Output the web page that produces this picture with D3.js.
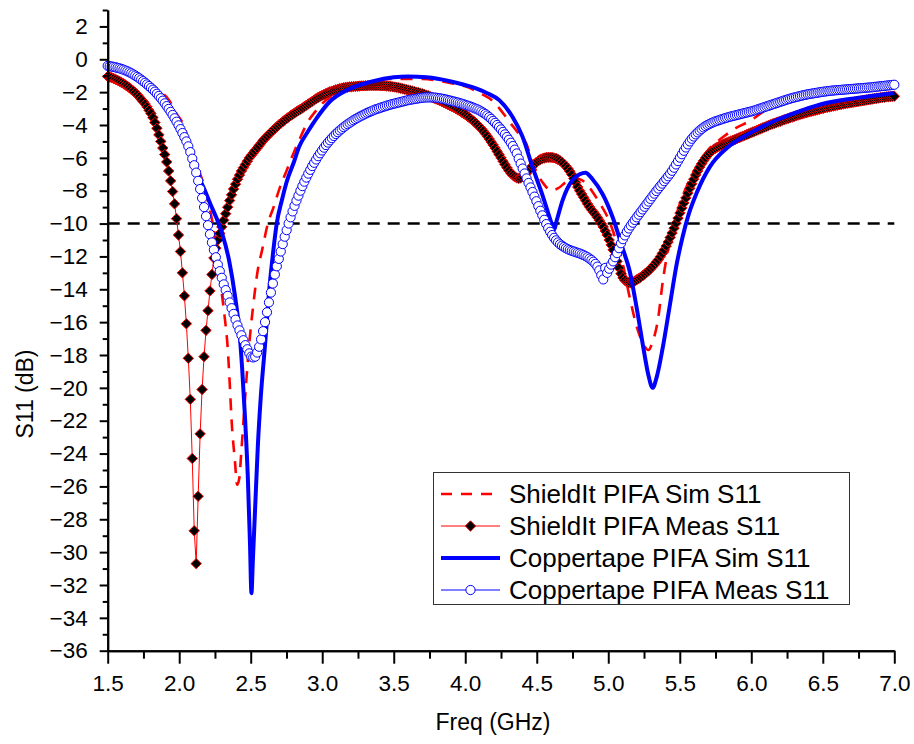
<!DOCTYPE html>
<html><head><meta charset="utf-8">
<script src="https://cdn.jsdelivr.net/npm/d3@7"></script>
<style>body{margin:0;background:#fff}</style>
</head><body>
<svg id="c" width="914" height="744"></svg>
<script>
// ---------------- DATA ----------------
const seriesNames = ["ShieldIt PIFA Sim S11", "ShieldIt PIFA Meas S11", "Coppertape PIFA Sim S11", "Coppertape PIFA Meas S11"];
const xMajorTicks = [1.5, 2.0, 2.5, 3.0, 3.5, 4.0, 4.5, 5.0, 5.5, 6.0, 6.5, 7.0];
const xMinorTicks = [1.75, 2.25, 2.75, 3.25, 3.75, 4.25, 4.75, 5.25, 5.75, 6.25, 6.75];
const yMajorTicks = [2, 0, -2, -4, -6, -8, -10, -12, -14, -16, -18, -20, -22, -24, -26, -28, -30, -32, -34, -36];
const yMinorTicks = [3, 1, -1, -3, -5, -7, -9, -11, -13, -15, -17, -19, -21, -23, -25, -27, -29, -31, -33, -35];
const refLevel = -10;

// measured sweeps: 401 points from 1.5 GHz, step 0.01375 GHz
const measStart = 1.5, measStep = 0.01375;
const shieldMeas = [
-1.05,-1.08,-1.12,-1.17,-1.22,-1.28,-1.34,-1.41,-1.48,-1.56,-1.64,-1.73,-1.83,-1.93,-2.04,-2.16,-2.29,-2.43,-2.57,-2.72,
-2.9,-3.1,-3.3,-3.55,-3.85,-4.2,-4.6,-5.0,-5.4,-5.8,-6.25,-6.8,-7.4,-8.05,-8.8,-9.7,-10.7,-11.7,-13.0,-14.4,
-16.1,-18.2,-20.7,-24.3,-28.7,-30.7,-26.6,-22.8,-20.1,-18.1,-16.5,-15.3,-14.1,-13.1,-12.1,-11.5,-11.0,-10.6,-10.2,-9.8,
-9.4,-9.0,-8.6,-8.25,-7.9,-7.6,-7.3,-7.05,-6.8,-6.6,-6.4,-6.2,-6.0,-5.85,-5.7,-5.55,-5.4,-5.25,-5.1,-4.95,
-4.8,-4.68,-4.56,-4.44,-4.33,-4.22,-4.11,-4.0,-3.9,-3.8,-3.7,-3.61,-3.52,-3.43,-3.35,-3.27,-3.19,-3.11,-3.04,-2.97,
-2.88,-2.8,-2.72,-2.64,-2.56,-2.48,-2.4,-2.33,-2.26,-2.2,-2.14,-2.08,-2.03,-1.98,-1.94,-1.9,-1.86,-1.82,-1.79,-1.76,
-1.73,-1.71,-1.7,-1.68,-1.67,-1.66,-1.65,-1.64,-1.63,-1.62,-1.62,-1.61,-1.61,-1.6,-1.6,-1.6,-1.6,-1.6,-1.6,-1.61,
-1.61,-1.62,-1.63,-1.64,-1.65,-1.67,-1.69,-1.71,-1.73,-1.76,-1.79,-1.82,-1.85,-1.88,-1.91,-1.94,-1.97,-2.0,-2.03,-2.07,
-2.1,-2.14,-2.18,-2.22,-2.27,-2.32,-2.37,-2.42,-2.47,-2.52,-2.57,-2.63,-2.69,-2.75,-2.81,-2.87,-2.93,-3.0,-3.07,-3.14,
-3.22,-3.3,-3.38,-3.47,-3.56,-3.66,-3.76,-3.87,-3.98,-4.1,-4.23,-4.37,-4.52,-4.68,-4.85,-5.03,-5.21,-5.4,-5.6,-5.8,
-6.0,-6.2,-6.4,-6.6,-6.78,-6.93,-7.05,-7.15,-7.22,-7.25,-7.22,-7.15,-7.05,-6.92,-6.78,-6.63,-6.5,-6.38,-6.27,-6.18,
-6.1,-6.05,-6.01,-5.98,-5.97,-5.97,-5.98,-6.0,-6.04,-6.1,-6.17,-6.26,-6.37,-6.5,-6.65,-6.82,-7.02,-7.25,-7.5,-7.77,
-8.0,-8.2,-8.4,-8.6,-8.8,-8.98,-9.15,-9.3,-9.45,-9.62,-9.8,-10.0,-10.2,-10.45,-10.7,-11.0,-11.3,-11.6,-11.95,-12.3,
-12.7,-13.05,-13.3,-13.45,-13.55,-13.6,-13.6,-13.55,-13.5,-13.42,-13.35,-13.27,-13.18,-13.08,-12.98,-12.88,-12.76,-12.63,-12.5,-12.35,
-12.2,-12.02,-11.82,-11.6,-11.37,-11.12,-10.85,-10.57,-10.28,-9.98,-9.67,-9.36,-9.05,-8.74,-8.44,-8.15,-7.86,-7.58,-7.3,-7.04,
-6.8,-6.57,-6.36,-6.17,-6.0,-5.85,-5.72,-5.6,-5.5,-5.42,-5.35,-5.29,-5.23,-5.17,-5.12,-5.07,-5.02,-4.97,-4.93,-4.88,
-4.83,-4.78,-4.73,-4.68,-4.63,-4.58,-4.53,-4.48,-4.43,-4.38,-4.33,-4.28,-4.23,-4.18,-4.13,-4.08,-4.03,-3.98,-3.94,-3.89,
-3.85,-3.81,-3.77,-3.72,-3.68,-3.64,-3.6,-3.56,-3.52,-3.48,-3.44,-3.4,-3.36,-3.33,-3.29,-3.26,-3.22,-3.19,-3.16,-3.13,
-3.1,-3.07,-3.04,-3.01,-2.98,-2.95,-2.92,-2.9,-2.87,-2.85,-2.82,-2.8,-2.77,-2.75,-2.72,-2.7,-2.68,-2.66,-2.64,-2.62,
-2.6,-2.58,-2.56,-2.54,-2.52,-2.5,-2.48,-2.46,-2.44,-2.42,-2.4,-2.38,-2.36,-2.34,-2.32,-2.31,-2.29,-2.28,-2.27,-2.26,
-2.25];
const copperMeas = [
-0.4,-0.42,-0.44,-0.46,-0.49,-0.52,-0.55,-0.59,-0.63,-0.68,-0.73,-0.79,-0.85,-0.92,-0.99,-1.07,-1.15,-1.24,-1.33,-1.43,
-1.53,-1.63,-1.74,-1.85,-1.97,-2.1,-2.23,-2.37,-2.52,-2.68,-2.85,-3.02,-3.2,-3.39,-3.59,-3.8,-4.02,-4.25,-4.49,-4.74,
-5.0,-5.3,-5.65,-6.05,-6.45,-6.9,-7.4,-7.9,-8.45,-9.0,-9.55,-10.1,-10.65,-11.15,-11.6,-12.05,-12.5,-12.9,-13.3,-13.7,
-14.05,-14.4,-14.8,-15.15,-15.5,-15.85,-16.2,-16.5,-16.8,-17.1,-17.4,-17.65,-17.9,-18.1,-18.15,-18.1,-17.85,-17.5,-17.05,-16.55,
-16.0,-15.4,-14.8,-14.2,-13.65,-13.1,-12.6,-12.15,-11.7,-11.25,-10.8,-10.4,-10.0,-9.62,-9.26,-8.92,-8.6,-8.3,-8.0,-7.72,
-7.45,-7.2,-6.96,-6.73,-6.5,-6.3,-6.1,-5.9,-5.72,-5.55,-5.38,-5.22,-5.07,-4.93,-4.8,-4.67,-4.55,-4.44,-4.33,-4.23,
-4.13,-4.04,-3.95,-3.87,-3.79,-3.71,-3.64,-3.57,-3.5,-3.44,-3.38,-3.32,-3.26,-3.21,-3.16,-3.11,-3.06,-3.02,-2.98,-2.94,
-2.9,-2.86,-2.82,-2.79,-2.75,-2.72,-2.69,-2.66,-2.63,-2.6,-2.57,-2.54,-2.51,-2.48,-2.46,-2.44,-2.42,-2.4,-2.38,-2.36,
-2.34,-2.33,-2.32,-2.32,-2.32,-2.32,-2.33,-2.34,-2.36,-2.38,-2.4,-2.42,-2.45,-2.48,-2.51,-2.54,-2.57,-2.6,-2.63,-2.67,
-2.7,-2.74,-2.78,-2.82,-2.86,-2.9,-2.95,-3.0,-3.05,-3.11,-3.18,-3.25,-3.33,-3.42,-3.52,-3.63,-3.75,-3.87,-4.0,-4.13,
-4.27,-4.42,-4.57,-4.73,-4.9,-5.08,-5.28,-5.5,-5.73,-6.05,-6.35,-6.65,-6.95,-7.25,-7.53,-7.8,-8.08,-8.36,-8.64,-8.94,
-9.22,-9.5,-9.77,-10.03,-10.28,-10.5,-10.7,-10.87,-11.02,-11.15,-11.26,-11.35,-11.43,-11.5,-11.56,-11.61,-11.66,-11.7,-11.74,-11.78,
-11.82,-11.87,-11.92,-11.98,-12.05,-12.13,-12.22,-12.32,-12.45,-12.62,-12.85,-13.15,-13.4,-12.7,-13.0,-12.75,-12.5,-12.3,-12.05,-11.8,
-11.5,-11.2,-10.95,-10.72,-10.5,-10.3,-10.12,-9.95,-9.78,-9.62,-9.46,-9.3,-9.14,-8.98,-8.82,-8.66,-8.5,-8.34,-8.18,-8.02,
-7.87,-7.72,-7.57,-7.42,-7.27,-7.12,-6.96,-6.79,-6.6,-6.4,-6.2,-5.99,-5.78,-5.57,-5.37,-5.18,-5.0,-4.84,-4.7,-4.57,
-4.45,-4.34,-4.24,-4.15,-4.07,-4.0,-3.94,-3.88,-3.83,-3.78,-3.74,-3.7,-3.66,-3.62,-3.58,-3.55,-3.51,-3.48,-3.45,-3.42,
-3.39,-3.36,-3.33,-3.3,-3.27,-3.24,-3.21,-3.18,-3.15,-3.11,-3.07,-3.03,-2.99,-2.95,-2.91,-2.87,-2.83,-2.79,-2.75,-2.71,
-2.67,-2.63,-2.59,-2.55,-2.51,-2.47,-2.43,-2.4,-2.36,-2.33,-2.3,-2.27,-2.24,-2.21,-2.18,-2.16,-2.13,-2.11,-2.09,-2.07,
-2.05,-2.03,-2.01,-1.99,-1.97,-1.96,-1.94,-1.93,-1.91,-1.9,-1.89,-1.88,-1.87,-1.86,-1.85,-1.84,-1.83,-1.82,-1.81,-1.8,
-1.79,-1.78,-1.77,-1.76,-1.75,-1.74,-1.73,-1.72,-1.71,-1.7,-1.68,-1.67,-1.66,-1.64,-1.63,-1.62,-1.6,-1.59,-1.58,-1.56,
-1.55];

// simulations
const shieldSimFreq = [1.5,1.6,1.7,1.79,1.86,1.93,1.98,2.03,2.07,2.12,2.167,2.2,2.24,2.27,2.295,2.318,2.34,2.353,2.365,2.39,2.405,2.42,2.435,2.46,2.48,2.516,2.55,2.58,2.62,2.66,2.7,2.75,2.8,2.85,2.9,2.95,3.0,3.1,3.2,3.3,3.5,3.7,3.9,4.0,4.1,4.2,4.24,4.3,4.38,4.43,4.46,4.5,4.55,4.6,4.65,4.7,4.75,4.8,4.85,4.9,4.95,5.0,5.05,5.1,5.15,5.2,5.25,5.28,5.31,5.35,5.38,5.42,5.46,5.5,5.55,5.6,5.65,5.7,5.75,5.8,5.87,6.0,6.1,6.3,6.5,6.75,7.0];
const shieldSimDb = [-0.6,-0.8,-1.05,-1.4,-1.9,-2.5,-3.3,-4.0,-5.1,-6.4,-7.5,-8.6,-10.3,-12.3,-14.05,-15.7,-17.7,-19.7,-21.8,-24.5,-25.9,-25.5,-23.8,-20.7,-18.3,-15.1,-12.8,-11.6,-10.0,-9.0,-7.9,-6.8,-5.7,-4.7,-3.8,-3.2,-2.7,-2.05,-1.7,-1.45,-1.2,-1.2,-1.45,-1.65,-2.05,-2.6,-3.0,-3.7,-4.6,-5.2,-6.0,-6.9,-7.6,-8.0,-7.85,-7.5,-7.25,-7.3,-7.6,-8.2,-8.9,-9.7,-10.9,-12.4,-14.5,-16.3,-17.4,-17.7,-17.2,-15.7,-13.6,-11.5,-10.0,-8.8,-7.7,-6.8,-6.1,-5.5,-5.1,-4.75,-4.3,-3.7,-3.1,-2.5,-2.2,-1.95,-1.75];
const copperSimFreq = [1.5,1.6,1.7,1.8,1.9,2.0,2.05,2.1,2.14,2.18,2.22,2.26,2.3,2.35,2.39,2.42,2.44,2.46,2.48,2.495,2.505,2.515,2.53,2.55,2.57,2.6,2.63,2.656,2.68,2.72,2.75,2.8,2.84,2.9,2.96,3.05,3.19,3.35,3.5,3.6,3.73,3.9,4.05,4.15,4.24,4.33,4.4,4.47,4.545,4.6,4.62,4.64,4.68,4.75,4.8,4.84,4.89,4.96,5.03,5.1,5.15,5.2,5.25,5.28,5.31,5.34,5.38,5.43,5.48,5.52,5.56,5.62,5.71,5.83,5.97,6.15,6.34,6.53,6.74,7.0];
const copperSimDb = [-0.5,-0.7,-1.05,-1.6,-2.5,-3.9,-5.0,-6.1,-7.2,-8.0,-8.85,-9.65,-10.6,-12.3,-14.4,-16.5,-18.8,-21.8,-25.5,-29.5,-32.5,-30.5,-27.5,-23.5,-20.6,-17.4,-14.0,-11.8,-10.1,-8.5,-7.5,-6.3,-5.3,-4.4,-3.6,-2.6,-1.8,-1.35,-1.1,-1.05,-1.1,-1.35,-1.7,-2.05,-2.5,-3.5,-4.7,-6.55,-8.4,-9.9,-10.4,-9.8,-8.6,-7.35,-7.0,-6.9,-7.3,-8.2,-9.6,-11.5,-12.9,-15.2,-17.8,-19.2,-20.0,-19.3,-17.6,-15.0,-12.4,-10.8,-9.5,-8.1,-6.55,-5.4,-4.6,-3.8,-3.15,-2.65,-2.35,-2.05];

// ---------------- CHART ----------------
const FONT = "'Liberation Sans', Arial, Helvetica, sans-serif";
const RED = "#ff0000", BLUE = "#0000ff";
const svg = d3.select("#c");
svg.append("rect").attr("width", 914).attr("height", 744).attr("fill", "#fff");

const x = d3.scaleLinear().domain([1.5, 7.0]).range([107.7, 894.3]);
const y = d3.scaleLinear().domain([-36, 3]).range([650.7, 10]);

const zip = (fs, vs) => fs.map((f, i) => [f, vs[i]]);
const measPts = vals => vals.map((v, i) => [measStart + i * measStep, v]);

const shieldSim = zip(shieldSimFreq, shieldSimDb);
const copperSim = zip(copperSimFreq, copperSimDb);
const shieldM = measPts(shieldMeas);
const copperM = measPts(copperMeas);

const diamond = {
  draw(ctx, size) {
    const r = Math.sqrt(size / 2);
    ctx.moveTo(0, -r); ctx.lineTo(r, 0); ctx.lineTo(0, r); ctx.lineTo(-r, 0); ctx.closePath();
  }
};
const diamondPath = d3.symbol().type(diamond).size(54)();
const circlePath = d3.symbol().type(d3.symbolCircle).size(Math.PI * 4.6 * 4.6)();

// reference -10 dB line
svg.append("line")
  .attr("x1", x(1.5)).attr("x2", x(7.0))
  .attr("y1", y(refLevel)).attr("y2", y(refLevel))
  .attr("stroke", "#000").attr("stroke-width", 2.5).attr("stroke-dasharray", "12,8");

const simLine = d3.line().x(d => x(d[0])).y(d => y(d[1])).curve(d3.curveMonotoneX);
const measLine = d3.line().x(d => x(d[0])).y(d => y(d[1]));

// 1. ShieldIt sim
svg.append("path").attr("d", simLine(shieldSim))
  .attr("fill", "none").attr("stroke", RED).attr("stroke-width", 2.6).attr("stroke-dasharray", "12,9");

// 2. ShieldIt meas
svg.append("path").attr("d", measLine(shieldM))
  .attr("fill", "none").attr("stroke", RED).attr("stroke-width", 1);
svg.append("g").selectAll("path").data(shieldM).join("path")
  .attr("d", diamondPath)
  .attr("transform", d => `translate(${x(d[0])},${y(d[1])})`)
  .attr("fill", "#000").attr("stroke", RED).attr("stroke-width", 1);

// 3. Coppertape sim
svg.append("path").attr("d", simLine(copperSim))
  .attr("fill", "none").attr("stroke", BLUE).attr("stroke-width", 4).attr("stroke-linejoin", "round");

// 4. Coppertape meas
svg.append("path").attr("d", measLine(copperM))
  .attr("fill", "none").attr("stroke", BLUE).attr("stroke-width", 1);
svg.append("g").selectAll("path").data(copperM).join("path")
  .attr("d", circlePath)
  .attr("transform", d => `translate(${x(d[0])},${y(d[1])})`)
  .attr("fill", "#fff").attr("stroke", BLUE).attr("stroke-width", 1);

// ---------------- AXES ----------------
function styleAxis(g) {
  g.selectAll(".domain").attr("stroke", "#000").attr("stroke-width", 2);
  g.selectAll(".tick line").attr("stroke", "#000").attr("stroke-width", 2);
  g.selectAll("text").attr("font-family", FONT).attr("font-size", 22.5).attr("fill", "#000");
}
const xAxisG = svg.append("g").attr("transform", `translate(0,${y(-36)})`);
xAxisG.call(d3.axisBottom(x).tickValues(xMinorTicks).tickSize(8).tickSizeOuter(0).tickFormat(""));
xAxisG.call(styleAxis);
const xAxisG2 = svg.append("g").attr("transform", `translate(0,${y(-36)})`);
xAxisG2.call(d3.axisBottom(x).tickValues(xMajorTicks).tickSize(13).tickSizeOuter(0).tickPadding(11).tickFormat(d3.format(".1f")));
xAxisG2.call(styleAxis);

const yAxisG = svg.append("g").attr("transform", `translate(${x(1.5)},0)`);
yAxisG.call(d3.axisLeft(y).tickValues(yMinorTicks).tickSize(5).tickSizeOuter(0).tickFormat(""));
yAxisG.call(styleAxis);
const yAxisG2 = svg.append("g").attr("transform", `translate(${x(1.5)},0)`);
yAxisG2.call(d3.axisLeft(y).tickValues(yMajorTicks).tickSize(8).tickSizeOuter(0).tickPadding(12).tickFormat(d3.format("d")));
yAxisG2.call(styleAxis);

// axis titles
svg.append("text").attr("x", 493).attr("y", 730).attr("text-anchor", "middle")
  .attr("font-family", FONT).attr("font-size", 23).text("Freq (GHz)");
svg.append("text").attr("transform", "translate(33,394) rotate(-90)").attr("text-anchor", "middle")
  .attr("font-family", FONT).attr("font-size", 23).text("S11 (dB)");

// ---------------- LEGEND ----------------
const lg = svg.append("g");
lg.append("rect").attr("x", 433.5).attr("y", 472.5).attr("width", 416).attr("height", 132)
  .attr("fill", "#fff").attr("stroke", "#333").attr("stroke-width", 1);
const rowsY = [494, 526, 558, 590];
const lx0 = 441, lx1 = 500, lxm = 470.5;
// row 0
lg.append("line").attr("x1", lx0).attr("x2", lx1).attr("y1", rowsY[0]).attr("y2", rowsY[0])
  .attr("stroke", RED).attr("stroke-width", 2.6).attr("stroke-dasharray", "11,9");
// row 1
lg.append("line").attr("x1", lx0).attr("x2", lx1).attr("y1", rowsY[1]).attr("y2", rowsY[1])
  .attr("stroke", RED).attr("stroke-width", 1);
lg.append("path").attr("d", diamondPath).attr("transform", `translate(${lxm},${rowsY[1]})`)
  .attr("fill", "#000").attr("stroke", RED).attr("stroke-width", 1);
// row 2
lg.append("line").attr("x1", lx0).attr("x2", lx1).attr("y1", rowsY[2]).attr("y2", rowsY[2])
  .attr("stroke", BLUE).attr("stroke-width", 4);
// row 3
lg.append("line").attr("x1", lx0).attr("x2", lx1).attr("y1", rowsY[3]).attr("y2", rowsY[3])
  .attr("stroke", BLUE).attr("stroke-width", 1);
lg.append("path").attr("d", circlePath).attr("transform", `translate(${lxm},${rowsY[3]})`)
  .attr("fill", "#fff").attr("stroke", BLUE).attr("stroke-width", 1);

lg.selectAll("text.lbl").data(seriesNames).join("text").attr("class", "lbl")
  .attr("x", 509).attr("y", (d, i) => rowsY[i]).attr("dy", "0.36em")
  .attr("font-family", FONT).attr("font-size", 26).attr("fill", "#000").text(d => d);
</script>
</body></html>
